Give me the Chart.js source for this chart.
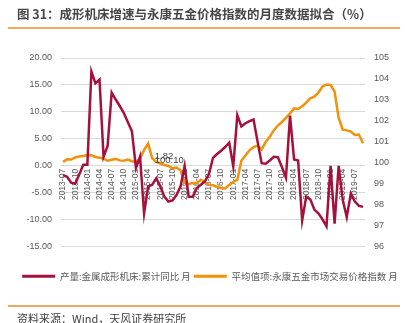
<!DOCTYPE html>
<html><head><meta charset="utf-8">
<script src="https://cdn.jsdelivr.net/npm/chart.js@4/dist/chart.umd.min.js"></script>
<style>
html,body{margin:0;padding:0;background:#fff;}
#wrap{position:relative;width:408px;height:323px;overflow:hidden;font-family:"Noto Sans CJK SC",sans-serif;}
#title{position:absolute;left:17px;top:5px;font-size:12.5px;font-weight:bold;color:#454545;white-space:nowrap;line-height:18px;}
.rule{position:absolute;left:8px;width:392px;height:2px;background:#F4A562;}
#src{position:absolute;left:17px;top:310px;font-size:11px;color:#404040;white-space:nowrap;line-height:16px;}
#cv{position:absolute;left:0;top:0;width:408px;height:323px;}
</style></head>
<body><div id="wrap">
<div id="cv"><canvas id="c"></canvas></div>
<div id="title">图 31：成形机床增速与永康五金价格指数的月度数据拟合（%）</div>
<div class="rule" style="top:27px"></div>
<div class="rule" style="top:305px"></div>
<div id="src">资料来源：Wind，天风证券研究所</div>
</div>
<script>
const months = [
'2013-07','2013-08','2013-09','2013-10','2013-11','2013-12',
'2014-01','2014-02','2014-03','2014-04','2014-05','2014-06','2014-07','2014-08','2014-09','2014-10','2014-11','2014-12',
'2015-01','2015-02','2015-03','2015-04','2015-05','2015-06','2015-07','2015-08','2015-09','2015-10','2015-11','2015-12',
'2016-01','2016-02','2016-03','2016-04','2016-05','2016-06','2016-07','2016-08','2016-09','2016-10','2016-11','2016-12',
'2017-01','2017-02','2017-03','2017-04','2017-05','2017-06','2017-07','2017-08','2017-09','2017-10','2017-11','2017-12',
'2018-01','2018-02','2018-03','2018-04','2018-05','2018-06','2018-07','2018-08','2018-09','2018-10','2018-11','2018-12',
'2019-01','2019-02','2019-03','2019-04','2019-05','2019-06','2019-07','2019-08','2019-09'];

const xTickLabels = ['2013-07','2013-10','2014-01','2014-04','2014-07','2014-10','2015-01','2015-04','2015-07','2015-10',
'2016-01','2016-04','2016-07','2016-10','2017-01','2017-04','2017-07','2017-10','2018-01','2018-04','2018-07','2018-10',
'2019-01','2019-04','2019-07'];

const machineToolYoY = [
-1.7,-2.0,-3.1,-3.3,-1.6,0.2,
0.2,17.5,15.3,16.0,1.7,3.7,13.6,12.3,11.1,9.8,8.1,6.4,
-0.4,1.7,-8.8,-3.8,-3.5,-2.3,-3.8,-5.7,-6.6,-6.4,-5.4,-3.8,
0.0,-5.7,-5.7,-4.1,-3.5,-2.9,-1.5,1.5,2.2,2.8,3.5,4.3,
-0.1,9.4,7.3,7.9,8.3,8.6,4.5,0.5,0.4,1.0,1.7,1.6,
-0.2,-2.2,9.3,1.2,1.0,-10.1,-5.7,-6.2,-8.1,-8.8,-9.9,-11.2,
0.0,-10.7,0.0,-6.3,-9.5,-5.1,-6.6,-7.4,-7.6];

const yongkangIndex = [
100.05,100.17,100.16,100.26,100.30,100.33,
100.38,100.36,100.28,100.25,100.20,100.10,100.15,100.19,100.12,100.10,100.16,100.08,
100.05,100.20,100.62,100.92,100.22,100.05,99.97,99.90,99.85,99.74,99.78,99.65,
99.05,99.00,99.04,99.04,99.20,99.09,98.95,98.93,98.85,98.80,98.78,98.95,
99.09,99.20,100.10,100.35,100.60,100.75,100.82,100.64,101.00,101.25,101.55,101.78,
101.95,102.15,102.36,102.60,102.57,102.70,102.87,103.08,103.16,103.35,103.64,103.74,
103.72,103.40,102.14,101.58,101.55,101.49,101.33,101.35,100.94];

const seriesNames = ['产量:金属成形机床:累计同比 月','平均值项:永康五金市场交易价格指数 月'];
const seriesColors = ['#A5113C','#F39108'];

const noteTexts = ['1.82','100.10'];
const noteValues = [1.82, 100.10];
const noteAxes = ['y','y1'];
const noteIndex = 23;

const numFont = '"Liberation Sans","Noto Sans CJK SC",sans-serif';

const notePlugin = {
  id:'notes',
  afterDatasetsDraw(chart){
    const ctx = chart.ctx, xs = chart.scales.x;
    ctx.save();
    ctx.font = '9.5px ' + numFont;
    ctx.fillStyle = '#404040';
    ctx.textAlign = 'left';
    ctx.textBaseline = 'middle';
    noteTexts.forEach((t,k)=>{
      ctx.fillText(t, xs.getPixelForValue(noteIndex) - 1.5, chart.scales[noteAxes[k]].getPixelForValue(noteValues[k]));
    });
    ctx.restore();
  }
};

new Chart(document.getElementById('c'), {
  type:'line',
  data:{
    labels: months,
    datasets:[
      {label:seriesNames[0], data:machineToolYoY, yAxisID:'y', borderColor:seriesColors[0], backgroundColor:seriesColors[0],
       borderWidth:2.5, pointRadius:0, tension:0},
      {label:seriesNames[1], data:yongkangIndex, yAxisID:'y1', borderColor:seriesColors[1], backgroundColor:seriesColors[1],
       borderWidth:2.5, pointRadius:0, tension:0}
    ]
  },
  options:{
    responsive:true, maintainAspectRatio:false, animation:false, devicePixelRatio:1,
    layout:{padding:{left:12,right:0,top:58,bottom:32}},
    plugins:{
      tooltip:{enabled:false},
      legend:{
        position:'bottom',
        title:{display:true, text:'', font:{size:1}, padding:{top:0,bottom:20.5}},
        labels:{
          boxWidth:33, boxHeight:3, padding:3, color:'#595959',
          font:{size:9.5, family:'"Noto Sans CJK SC",sans-serif'},
          generateLabels(chart){
            return Chart.defaults.plugins.legend.labels.generateLabels(chart).map(l=>Object.assign(l,{lineWidth:0}));
          }
        }
      }
    },
    scales:{
      x:{
        type:'category', position:{y:0}, offset:true,
        grid:{display:false, drawTicks:false}, border:{display:false},
        ticks:{autoSkip:false, minRotation:90, maxRotation:90, padding:3, color:'#595959',
          font:{size:8.5, family:numFont},
          callback(v, idx){ return xTickLabels.includes(months[idx]) ? months[idx] : null; }}
      },
      y:{
        position:'left', min:-15, max:20,
        grid:{color:'#D9D9D9', lineWidth:1, drawTicks:false}, border:{display:false},
        ticks:{stepSize:5, padding:9, color:'#595959', font:{size:9, family:numFont},
          callback(v){ return Number(v).toFixed(2); }},
        afterFit(s){ s.width = 49; }
      },
      y1:{
        position:'right', min:96, max:105,
        grid:{display:false, drawTicks:false}, border:{display:false},
        ticks:{stepSize:1, padding:9, color:'#595959', font:{size:9, family:numFont},
          callback(v){ return String(v); }},
        afterFit(s){ s.width = 43; }
      }
    }
  },
  plugins:[notePlugin]
});
</script>
</body></html>
